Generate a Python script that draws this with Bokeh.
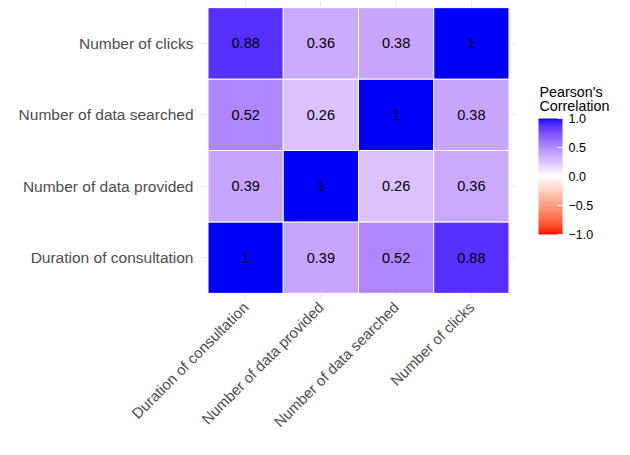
import numpy as np
from bokeh.plotting import figure
from bokeh.layouts import row
from bokeh.models import (ColumnDataSource, LinearColorMapper, ColorBar, FixedTicker,
                          FactorRange, Label, Range1d)
from bokeh.core.properties import value
from bokeh.embed import file_html
from bokeh.resources import INLINE

# ---- data ----
variables = ["Duration of consultation", "Number of data provided",
             "Number of data searched", "Number of clicks"]
row_duration = [1.00, 0.39, 0.52, 0.88]
row_provided = [0.39, 1.00, 0.26, 0.36]
row_searched = [0.52, 0.26, 1.00, 0.38]
row_clicks = [0.88, 0.36, 0.38, 1.00]
legend_ticks = [-1.0, -0.5, 0.0, 0.5, 1.0]
legend_labels = ["\u22121.0", "\u22120.5", "0.0", "0.5", "1.0"]
legend_title = ["Pearson's", "Correlation"]

rows = [row_duration, row_provided, row_searched, row_clicks]

# ---- colour palette (ggplot2 gradient2: red - white - blue, Lab interpolation) ----
def _lin(c):
    return c / 12.92 if c <= 0.04045 else ((c + 0.055) / 1.055) ** 2.4

def _gam(c):
    c = min(max(c, 0.0), 1.0)
    return 12.92 * c if c <= 0.0031308 else 1.055 * c ** (1 / 2.4) - 0.055

WN = (0.95047, 1.0, 1.08883)

def rgb2lab(rgb):
    r, g, b = [_lin(v / 255) for v in rgb]
    X = 0.4124564 * r + 0.3575761 * g + 0.1804375 * b
    Y = 0.2126729 * r + 0.7151522 * g + 0.0721750 * b
    Z = 0.0193339 * r + 0.1191920 * g + 0.9503041 * b
    def f(t):
        return t ** (1 / 3) if t > 0.008856 else 7.787 * t + 16 / 116
    fx, fy, fz = f(X / WN[0]), f(Y / WN[1]), f(Z / WN[2])
    return (116 * fy - 16, 500 * (fx - fy), 200 * (fy - fz))

def lab2hex(lab):
    L, a, b = lab
    fy = (L + 16) / 116
    fx = fy + a / 500
    fz = fy - b / 200
    def finv(t):
        return t ** 3 if t ** 3 > 0.008856 else (t - 16 / 116) / 7.787
    X, Y, Z = finv(fx) * WN[0], finv(fy) * WN[1], finv(fz) * WN[2]
    r = 3.2404542 * X - 1.5371385 * Y - 0.4985314 * Z
    g = -0.9692660 * X + 1.8760108 * Y + 0.0415560 * Z
    bb = 0.0556434 * X - 0.2040259 * Y + 1.0572252 * Z
    return "#%02x%02x%02x" % tuple(int(round(_gam(v) * 255)) for v in (r, g, bb))

low_lab, mid_lab, high_lab = rgb2lab((255, 0, 0)), rgb2lab((255, 255, 255)), rgb2lab((0, 0, 255))
palette = []
N = 256
for i in range(N):
    t = i / (N - 1) * 2 - 1
    if t < 0:
        s = t + 1
        lab = tuple(low_lab[k] + (mid_lab[k] - low_lab[k]) * s for k in range(3))
    else:
        lab = tuple(mid_lab[k] + (high_lab[k] - mid_lab[k]) * t for k in range(3))
    palette.append(lab2hex(lab))

mapper = LinearColorMapper(palette=palette, low=-1, high=1)

xs, ys, vals, labels = [], [], [], []
for yi, row_vals in enumerate(rows):
    for xi, v in enumerate(row_vals):
        xs.append(variables[xi])
        ys.append(variables[yi])
        vals.append(v)
        labels.append(f"{v:g}")
src = ColumnDataSource(dict(x=xs, y=ys, v=vals, label=labels))

FONT = "Liberation Sans"

p = figure(width=516, height=439, output_backend="svg", toolbar_location=None,
           x_range=FactorRange(*variables, range_padding=0.1, range_padding_units="absolute"),
           y_range=FactorRange(*variables, range_padding=0.1, range_padding_units="absolute"),
           min_border_left=200, min_border_right=0, min_border_top=0, min_border_bottom=120)
p.outline_line_color = None
p.background_fill_color = "white"
p.grid.grid_line_color = "#EBEBEB"
p.grid.grid_line_width = 1

p.rect(x="x", y="y", width=1, height=1, source=src,
       fill_color={"field": "v", "transform": mapper}, line_color="white", line_width=1)
p.text(x="x", y="y", text="label", source=src, text_align="center", text_baseline="middle",
       text_font=value(FONT), text_font_size="14.5px", text_color="black")

for ax in (p.xaxis[0], p.yaxis[0]):
    ax.axis_line_color = None
    ax.major_tick_line_color = None
    ax.minor_tick_line_color = None
    ax.major_tick_out = 0
    ax.major_tick_in = 0
    ax.major_label_text_font = FONT
    ax.major_label_text_color = "#4D4D4D"
p.yaxis.major_label_text_font_size = "15.5px"
p.yaxis.major_label_standoff = 7
p.xaxis.major_label_text_font_size = "15px"
p.xaxis.major_label_standoff = 4
p.xaxis.major_label_orientation = np.pi / 4

# ---- legend panel (its frame is aligned with the heatmap frame, ~299 px tall) ----
FRAME_H = 299
leg = figure(width=98, height=439, output_backend="svg", toolbar_location=None,
             x_range=Range1d(0, 98), y_range=Range1d(FRAME_H, 0),
             x_axis_type=None, y_axis_type=None, min_border=0)
leg.outline_line_color = None
leg.background_fill_color = "white"

cb = ColorBar(color_mapper=mapper, ticker=FixedTicker(ticks=legend_ticks),
              major_label_overrides={t: l for t, l in zip(legend_ticks, legend_labels)},
              width=24, height=116, location=(22, 66), margin=0, padding=0,
              major_label_text_font=FONT, major_label_text_font_size="12.5px",
              major_label_text_color="black", label_standoff=6,
              major_tick_line_color="white", major_tick_in=5, major_tick_out=0,
              bar_line_color=None, border_line_color=None, background_fill_color=None)
leg.add_layout(cb)

for i, line in enumerate(legend_title):
    leg.add_layout(Label(x=23, y=91 + 14.5 * i, text=line,
                         text_font=FONT, text_font_size="14.3px", text_color="black",
                         text_align="left", text_baseline="alphabetic"))

layout = row(p, leg, spacing=0)
open("out.html", "w").write(file_html(layout, INLINE))
